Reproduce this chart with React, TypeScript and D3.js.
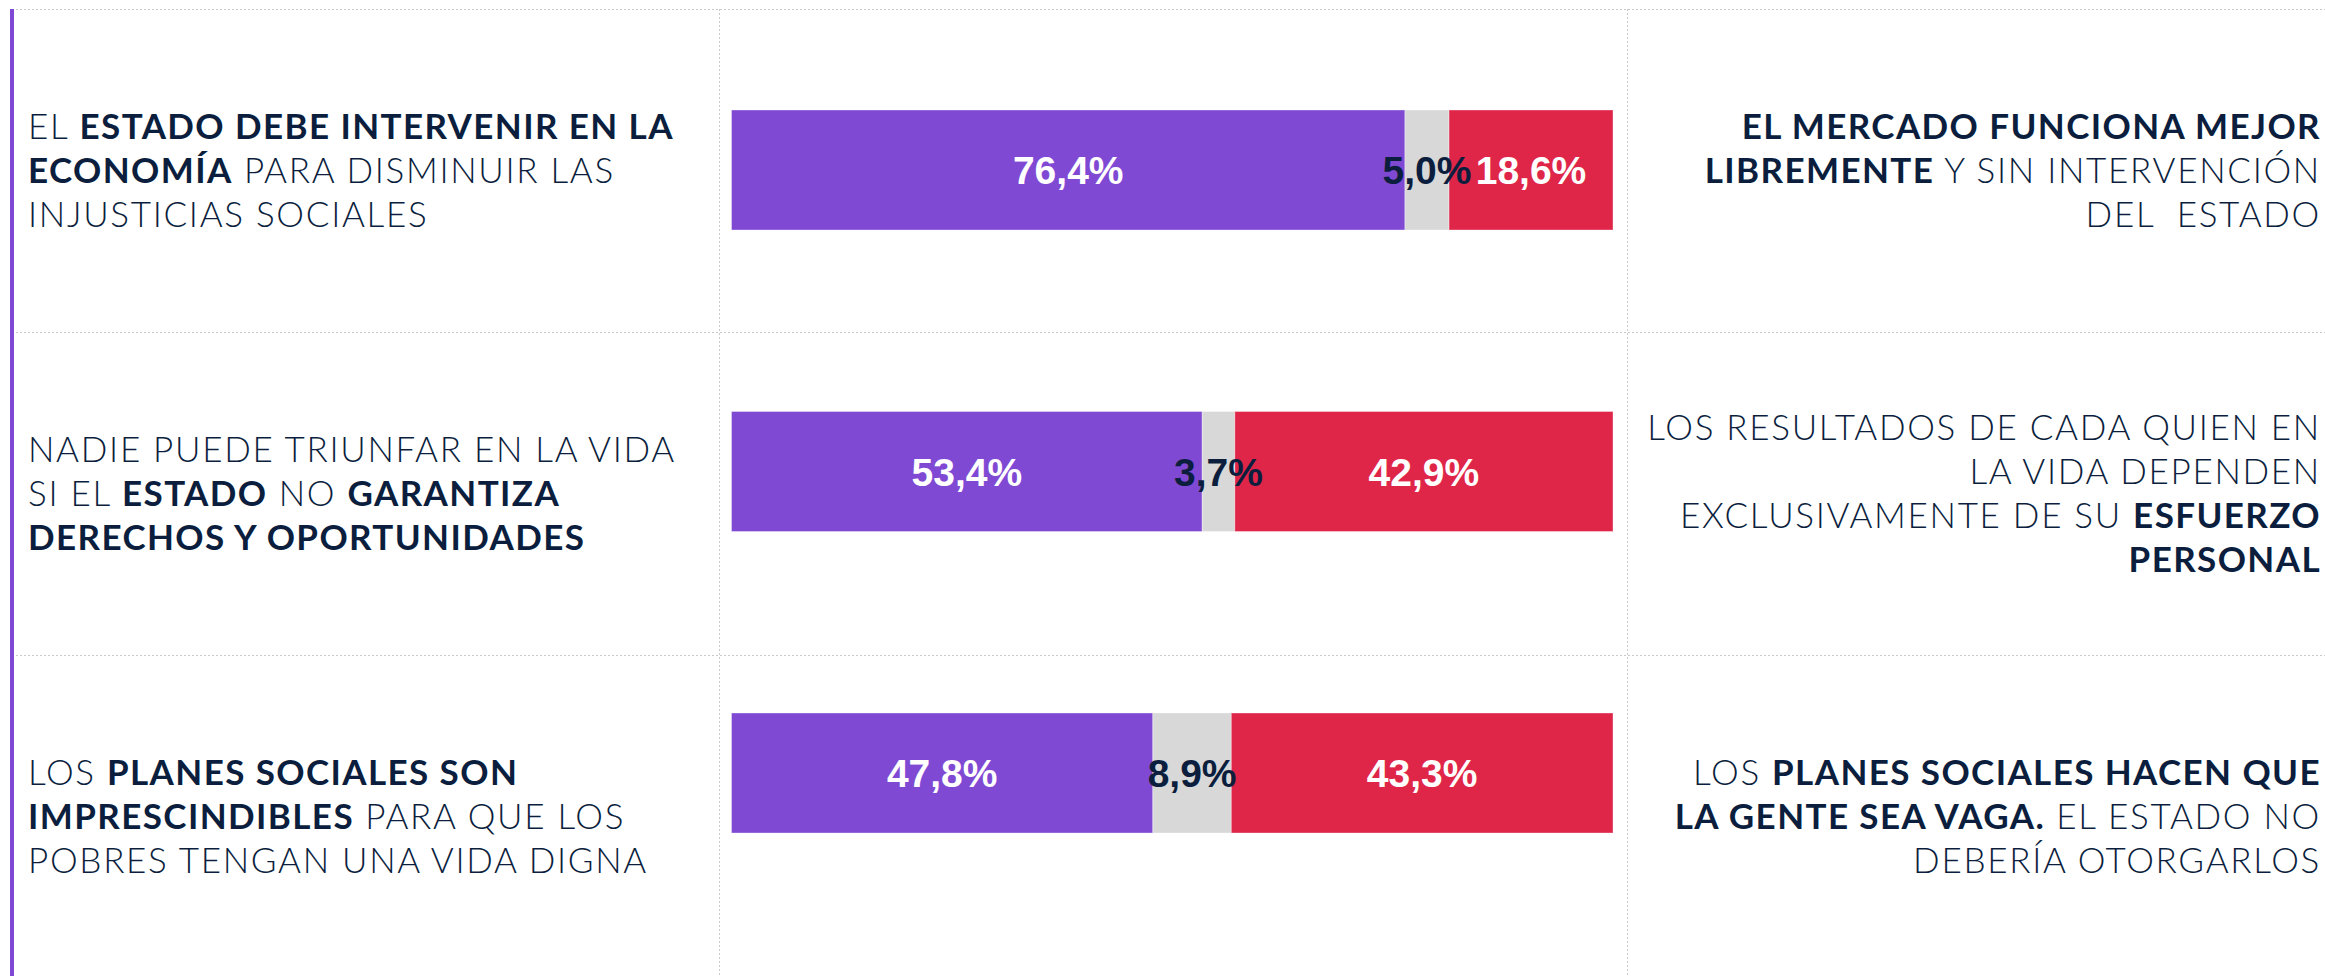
import React from 'react';
import * as d3 from 'd3';

// Each statement pair: left (a favor del Estado) / right (a favor del mercado)
// Lines are lists of [text, bold] segments
type Seg = [string, boolean];

const rowIds = ['economia', 'derechos', 'planes'];

const leftText: Seg[][][] = [
  [
    [['EL ', false], ['ESTADO DEBE INTERVENIR EN LA', true]],
    [['ECONOMÍA', true], [' PARA DISMINUIR LAS', false]],
    [['INJUSTICIAS SOCIALES', false]],
  ],
  [
    [['NADIE PUEDE TRIUNFAR EN LA VIDA', false]],
    [['SI EL ', false], ['ESTADO', true], [' NO ', false], ['GARANTIZA', true]],
    [['DERECHOS Y OPORTUNIDADES', true]],
  ],
  [
    [['LOS ', false], ['PLANES SOCIALES SON', true]],
    [['IMPRESCINDIBLES', true], [' PARA QUE LOS', false]],
    [['POBRES TENGAN UNA VIDA DIGNA', false]],
  ],
];

const rightText: Seg[][][] = [
  [
    [['EL MERCADO FUNCIONA MEJOR', true]],
    [['LIBREMENTE', true], [' Y SIN INTERVENCIÓN', false]],
    [['DEL  ESTADO', false]],
  ],
  [
    [['LOS RESULTADOS DE CADA QUIEN EN', false]],
    [['LA VIDA DEPENDEN', false]],
    [['EXCLUSIVAMENTE DE SU ', false], ['ESFUERZO', true]],
    [['PERSONAL', true]],
  ],
  [
    [['LOS ', false], ['PLANES SOCIALES HACEN QUE', true]],
    [['LA GENTE SEA VAGA.', true], [' EL ESTADO NO', false]],
    [['DEBERÍA OTORGARLOS', false]],
  ],
];

// Percentages per row
const estado = [76.4, 53.4, 47.8];
const ninguno = [5.0, 3.7, 8.9];
const mercado = [18.6, 42.9, 43.3];

const keys = ['estado', 'ninguno', 'mercado'];
const colors: Record<string, string> = {
  estado: '#8049D4',
  ninguno: '#D8D8D8',
  mercado: '#DF2649',
};
const labelColors: Record<string, string> = {
  estado: '#FFFFFF',
  ninguno: '#0B1E3D',
  mercado: '#FFFFFF',
};

const W = 2325;
const H = 976;
const TEXT = '#0B1E3D';
const GRID = '#C9C9C9';
const FONT = 'Lato, "Noto Sans", sans-serif';
const LABEL_FONT = '"Liberation Sans", Arial, sans-serif';

const fmt = (v: number) => v.toFixed(1).replace('.', ',') + '%';

export default function App() {
  const table = rowIds.map((id, i) => ({
    id,
    estado: estado[i],
    ninguno: ninguno[i],
    mercado: mercado[i],
  }));
  const series = d3.stack<any>().keys(keys)(table);

  // row cells of the table
  const rowBand = d3.scaleBand<string>().domain(rowIds).range([9, 978]);
  // bars
  const y = d3.scaleBand<string>().domain(rowIds).range([110, 833]).paddingInner(0.602);
  const x = d3.scaleLinear().domain([0, 100]).range([731.5, 1613]);

  const col1 = 719;
  const col2 = 1627;
  const lineH = 44;
  const capHalf = 12.5;

  const renderLines = (lines: Seg[][], rowId: string, anchor: 'start' | 'end', tx: number) => {
    const cy = (rowBand(rowId) as number) + rowBand.bandwidth() / 2;
    const n = lines.length;
    return lines.map((segs, li) => (
      <text
        key={li}
        x={tx}
        y={cy + (li - (n - 1) / 2) * lineH + capHalf}
        textAnchor={anchor}
        fontFamily={FONT}
        fontSize={35}
        fill={TEXT}
        style={{ whiteSpace: 'pre' }}
      >
        {segs.map(([t, b], si) => (
          <tspan key={si} fontWeight={b ? 700 : 300} letterSpacing={b ? 1.4 : 1.7}>
            {t}
          </tspan>
        ))}
      </text>
    ));
  };

  const cells = series.flatMap((s) =>
    s.map((d: any) => ({
      key: s.key,
      id: d.data.id,
      value: d.data[s.key],
      x0: x(d[0]),
      x1: x(d[1]),
      y: y(d.data.id) as number,
    }))
  );

  return (
    <svg
      width={W}
      height={H}
      style={{ position: 'absolute', left: 0, top: 0, background: '#fff' }}
    >
      {/* table grid */}
      <line x1={12} x2={W} y1={9.5} y2={9.5} stroke={GRID} strokeDasharray="2,2" />
      {rowIds.slice(1).map((id) => (
        <line
          key={id}
          x1={12}
          x2={W}
          y1={(rowBand(id) as number) + 0.5}
          y2={(rowBand(id) as number) + 0.5}
          stroke={GRID}
          strokeDasharray="2,2"
        />
      ))}
      {[col1, col2].map((cx) => (
        <line key={cx} x1={cx + 0.5} x2={cx + 0.5} y1={9} y2={H} stroke={GRID} strokeDasharray="2,2" />
      ))}
      <rect x={10} y={9} width={4} height={H - 9} fill="#8049D4" />

      {/* statements */}
      {rowIds.map((id, i) => (
        <g key={id}>
          {renderLines(leftText[i], id, 'start', 28)}
          {renderLines(rightText[i], id, 'end', 2321)}
        </g>
      ))}

      {/* stacked bars */}
      <g>
        {cells.map((c) => (
          <rect
            key={c.key + c.id}
            x={c.x0}
            y={c.y}
            width={c.x1 - c.x0}
            height={y.bandwidth()}
            fill={colors[c.key]}
            stroke="#ffffff"
            strokeOpacity={0.35}
            strokeWidth={1}
          />
        ))}
      </g>
      <g>
        {cells.map((c) => (
          <text
            key={c.key + c.id}
            x={(c.x0 + c.x1) / 2}
            y={c.y + y.bandwidth() / 2}
            dy="0.36em"
            textAnchor="middle"
            fontFamily={LABEL_FONT}
            fontWeight={700}
            fontSize={39}
            fill={labelColors[c.key]}
          >
            {fmt(c.value)}
          </text>
        ))}
      </g>
    </svg>
  );
}
